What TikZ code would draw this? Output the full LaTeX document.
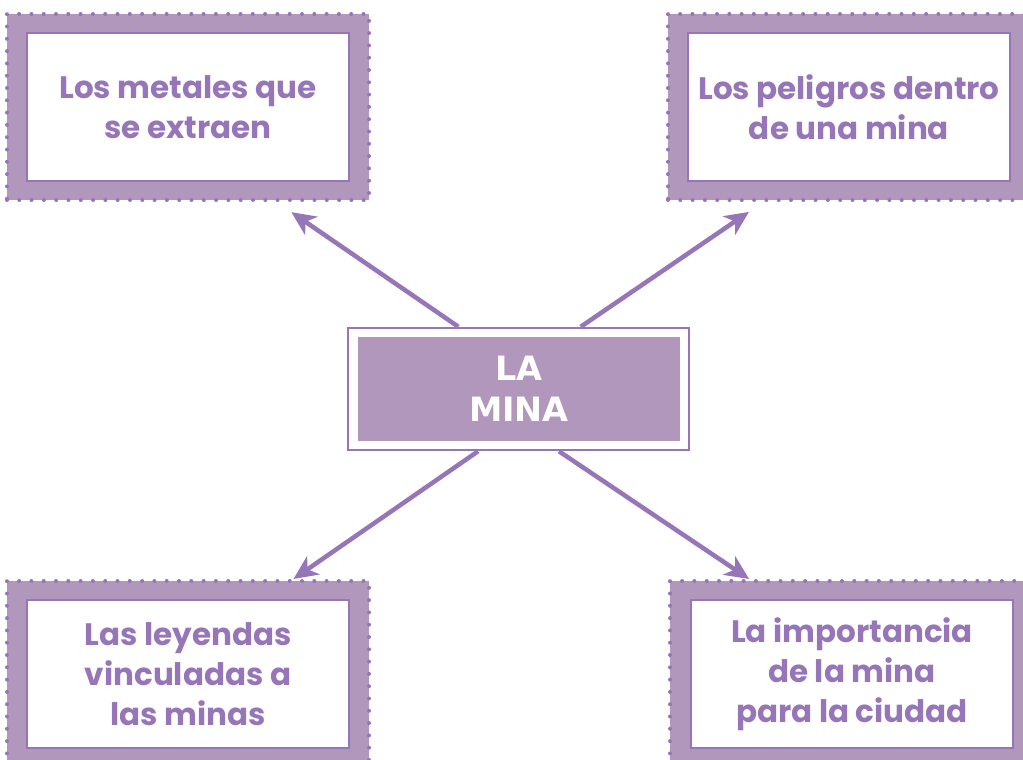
\documentclass[tikz,border=0pt]{standalone}
\usepackage{fontspec}
\setmainfont{Poppins}
\newfontfamily\titulo{DejaVu Sans}
\usetikzlibrary{arrows.meta}
\definecolor{lila}{RGB}{177,151,187}
\definecolor{morado}{RGB}{150,117,184}

\begin{document}
\begin{tikzpicture}[x=1pt, y=-1pt,
    fondo/.style={rectangle, fill=lila, draw=morado, line width=4pt, dash pattern=on 0pt off 12.3pt, line cap=round, minimum width=362pt, minimum height=186pt, inner sep=0pt},
    caja/.style={rectangle, fill=white, draw=morado, line width=2.5pt, minimum width=322pt, minimum height=148pt, inner sep=0pt, align=center, text=morado, font=\fontsize{31}{40}\selectfont\bfseries},
    flecha/.style={draw=morado, line width=4.5pt, -{Stealth[length=24pt, width=22pt, inset=7pt]}}]
            \useasboundingbox (0,0) rectangle (1023,760);
            \clip (0,0) rectangle (1023,760);

            % Cajas de arriba
            \node[fondo] (fmetales) at (188,107) {};
            \node[caja] (metales) at (188,107) {Los metales que\\se extraen};
            \node[fondo] (fpeligros) at (849,107) {};
            \node[caja] (peligros) at (849,107) {Los peligros dentro\\de una mina};

            % Cajas de abajo
            \node[fondo] (fleyendas) at (188,674) {};
            \node[caja] (leyendas) at (188,674) {Las leyendas\\vinculadas a\\las minas};
            \node[fondo] (fimportancia) at (851,674) {};
            \node[caja] (importancia) at (852,674) {La importancia\\de la mina\\para la ciudad};

            % Centro
            \node[rectangle, draw=morado, fill=white, line width=2.5pt, minimum width=341pt, minimum height=122pt] (mina) at (518.5,389) {};
            \node[rectangle, fill=lila, minimum width=322pt, minimum height=104pt, align=center, text=white, font=\titulo\fontsize{33.5}{41}\selectfont\bfseries] (titulo) at (519,389) {LA\\MINA};

            % Flechas
            \draw[flecha, shorten >=18pt] (mina.134) -- (fmetales.-47.5);
            \draw[flecha, shorten >=17.5pt] (mina.45) -- (fpeligros.-132.7);
            \draw[flecha] (mina.-123.6) -- (fleyendas.42.6);
            \draw[flecha] (mina.-57.1) -- (fimportancia.137.9);
        \end{tikzpicture}
\end{document}
